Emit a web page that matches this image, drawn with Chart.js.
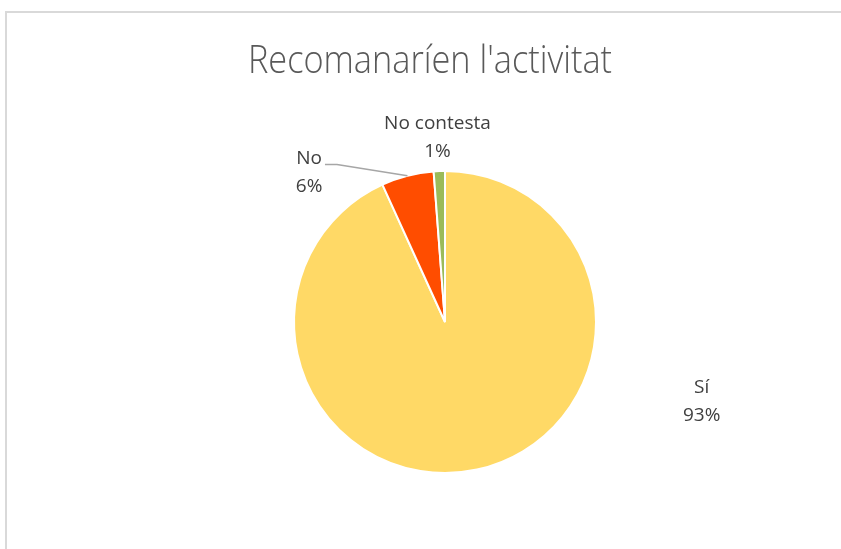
<!DOCTYPE html>
<html><head><meta charset="utf-8">
<script src="https://cdn.jsdelivr.net/npm/chart.js@4/dist/chart.umd.min.js"></script>
<style>
html,body{margin:0;padding:0;background:#fff;overflow:hidden;width:841px;height:549px;}
#frame{position:absolute;left:5px;top:11px;width:1000px;height:1000px;border:2px solid #d9d9d9;box-sizing:border-box;}
#wrap{position:absolute;left:0;top:0;width:841px;height:549px;}
</style></head>
<body>
<div id="frame"></div>
<div id="wrap"><canvas id="c" width="841" height="549"></canvas></div>
<script>
const titleText = "Recomanaríen l'activitat";
const categories = ["Sí", "No", "No contesta"];
const values = [93.2, 5.6, 1.2];
const percentLabels = ["93%", "6%", "1%"];
const colors = ["#FFD966", "#FF4D00", "#9BBB59"];
// label placement relative to pie centre, in units of radius
const labelOffsets = [[1.70, 0.53], [-0.90, -0.99], [-0.05, -1.22]];

const labelPlugin = {
  id: 'labels',
  afterDatasetsDraw(chart) {
    const ctx = chart.ctx;
    const meta = chart.getDatasetMeta(0);
    ctx.save();
    // title, condensed to the width of the original's narrow face
    ctx.fillStyle = '#595959';
    ctx.font = '300 38px "Open Sans"';
    ctx.textAlign = 'center';
    ctx.textBaseline = 'alphabetic';
    const tw = ctx.measureText(titleText).width;
    const sx = 364 / tw;
    ctx.save();
    ctx.translate(430, 72.5);
    ctx.scale(sx, 1);
    ctx.fillText(titleText, 0, 0);
    ctx.restore();

    ctx.font = '19px "Open Sans"';
    ctx.fillStyle = '#404040';
    ctx.textBaseline = 'middle';
    meta.data.forEach((arc, i) => {
      const r = arc.outerRadius;
      const lx = arc.x + labelOffsets[i][0] * r;
      const ly = arc.y + labelOffsets[i][1] * r;
      ctx.fillText(categories[i], lx, ly - 14);
      ctx.fillText(percentLabels[i], lx, ly + 14);
      if (i === 1) {
        const mid = (arc.startAngle + arc.endAngle) / 2;
        const ex = arc.x + Math.cos(mid) * r;
        const ey = arc.y + Math.sin(mid) * r;
        const w = ctx.measureText(categories[i]).width;
        const x0 = lx + w / 2 + 3;
        const y0 = ly - 8;
        ctx.strokeStyle = '#a6a6a6';
        ctx.lineWidth = 1.5;
        ctx.beginPath();
        ctx.moveTo(x0, y0);
        ctx.lineTo(x0 + 12, y0);
        ctx.lineTo(ex, ey);
        ctx.stroke();
      }
    });
    ctx.restore();
  }
};

new Chart(document.getElementById('c'), {
  type: 'pie',
  data: {
    labels: categories,
    datasets: [{
      data: values,
      backgroundColor: colors,
      borderColor: '#ffffff',
      borderWidth: 2
    }]
  },
  options: {
    responsive: false,
    animation: false,
    layout: { padding: { top: 170, bottom: 75, left: 200, right: 151 } },
    plugins: { legend: { display: false }, tooltip: { enabled: false }, title: { display: false } }
  },
  plugins: [labelPlugin]
});
</script>
</body></html>
